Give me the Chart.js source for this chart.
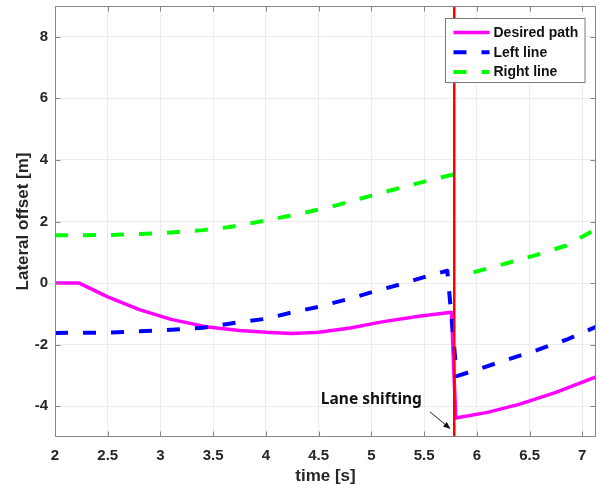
<!DOCTYPE html>
<html>
<head>
<meta charset="utf-8">
<title>Lateral offset</title>
<script src="https://cdn.jsdelivr.net/npm/chart.js@4/dist/chart.umd.min.js"></script>
<style>
  html, body { margin: 0; padding: 0; background: #ffffff; }
  canvas { display: block; }
</style>
</head>
<body>
<canvas id="chart" width="602" height="488"></canvas>
<script>
// ---- data (time in s, lateral offset in m) ----
const desiredT = [2.0, 2.23, 2.5, 2.8, 3.1, 3.45, 3.75, 4.0, 4.25, 4.5, 4.8, 5.1, 5.45, 5.76, 5.80, 6.1, 6.4, 6.75, 7.13];
const desiredY = [0, 0, -0.45, -0.86, -1.18, -1.43, -1.54, -1.6, -1.64, -1.6, -1.46, -1.26, -1.08, -0.95, -4.38, -4.2, -3.94, -3.55, -3.05];

const leftT = [2.0, 2.5, 3.0, 3.4, 3.75, 4.0, 4.25, 4.5, 4.8, 5.05, 5.3, 5.55, 5.72, 5.81, 5.95, 6.25, 6.55, 6.85, 7.13];
const leftY = [-1.62, -1.61, -1.54, -1.45, -1.27, -1.16, -0.95, -0.77, -0.5, -0.25, -0.02, 0.25, 0.4, -3.02, -2.87, -2.53, -2.2, -1.84, -1.42];

const rightT = [2.0, 2.5, 3.0, 3.4, 3.66, 4.0, 4.3, 4.6, 5.0, 5.3, 5.6, 5.83, 5.9, 5.97, 6.3, 6.55, 6.85, 7.13];
const rightY = [1.55, 1.56, 1.62, 1.72, 1.82, 2.03, 2.24, 2.46, 2.84, 3.12, 3.38, 3.57, null, 0.35, 0.66, 0.9, 1.22, 1.75];

const laneShiftT = [5.786, 5.786];
const laneShiftY = [-5, 9];

const timeTicks = [2, 2.5, 3, 3.5, 4, 4.5, 5, 5.5, 6, 6.5, 7];
const offsetTicks = [-4, -2, 0, 2, 4, 6, 8];
const timeRange = [2, 7.13];
const offsetRange = [-5, 9];

const seriesNames = ['Desired path', 'Left line', 'Right line'];
const annotationText = 'Lane shifting';
// label anchor and arrow (data coordinates)
const annotationLabelAt = { x: 5.0, y: -3.8 };
const annotationArrowFrom = { x: 5.555, y: -4.18 };
const annotationArrowTo = { x: 5.751, y: -4.74 };

const zip = (xs, ys) => xs.map((x, i) => ({ x: x, y: ys[i] }));

const TICK_FONT = { family: '"Liberation Sans", Arial, sans-serif', size: 15, weight: 'bold' };
const TITLE_FONT = { family: '"Liberation Sans", Arial, sans-serif', size: 17, weight: 'bold' };
const TEXT_COLOR = '#262626';
const FRAME_COLOR = '#858585';

// Box frame with inward tick marks on all four sides
const framePlugin = {
  id: 'frame',
  afterDatasetsDraw(chart) {
    const { ctx, chartArea: a, scales } = chart;
    const L = Math.round(a.left) + 0.5, R = Math.round(a.right) - 0.5;
    const T = Math.round(a.top) + 0.5, B = Math.round(a.bottom) - 0.5;
    ctx.save();
    ctx.strokeStyle = FRAME_COLOR;
    ctx.lineWidth = 1;
    ctx.beginPath();
    ctx.rect(L, T, R - L, B - T);
    const tl = 5;
    scales.x.ticks.forEach(t => {
      const px = Math.round(scales.x.getPixelForValue(t.value)) + 0.5;
      ctx.moveTo(px, B); ctx.lineTo(px, B - tl);
      ctx.moveTo(px, T); ctx.lineTo(px, T + tl);
    });
    scales.y.ticks.forEach(t => {
      const py = Math.round(scales.y.getPixelForValue(t.value)) + 0.5;
      ctx.moveTo(L, py); ctx.lineTo(L + tl, py);
      ctx.moveTo(R, py); ctx.lineTo(R - tl, py);
    });
    ctx.stroke();
    ctx.restore();
  }
};

// "Lane shifting" note with an arrow pointing at the shift instant
const annotationPlugin = {
  id: 'laneNote',
  afterDraw(chart) {
    const { ctx, scales } = chart;
    const X = v => scales.x.getPixelForValue(v), Y = v => scales.y.getPixelForValue(v);
    ctx.save();
    ctx.fillStyle = '#111111';
    ctx.font = 'bold 15.5px "Noto Sans", "Open Sans", sans-serif';
    ctx.textAlign = 'center';
    ctx.textBaseline = 'middle';
    ctx.fillText(annotationText, X(annotationLabelAt.x), Y(annotationLabelAt.y));

    const x0 = X(annotationArrowFrom.x), y0 = Y(annotationArrowFrom.y);
    const x1 = X(annotationArrowTo.x), y1 = Y(annotationArrowTo.y);
    const ang = Math.atan2(y1 - y0, x1 - x0);
    const head = 8, spread = 0.38;
    ctx.strokeStyle = '#222222';
    ctx.lineWidth = 1;
    ctx.beginPath();
    ctx.moveTo(x0, y0);
    ctx.lineTo(x1 - Math.cos(ang) * head * 0.8, y1 - Math.sin(ang) * head * 0.8);
    ctx.stroke();
    ctx.beginPath();
    ctx.moveTo(x1, y1);
    ctx.lineTo(x1 - head * Math.cos(ang - spread), y1 - head * Math.sin(ang - spread));
    ctx.lineTo(x1 - head * Math.cos(ang + spread), y1 - head * Math.sin(ang + spread));
    ctx.closePath();
    ctx.fillStyle = '#111111';
    ctx.fill();
    ctx.restore();
  }
};

// Boxed legend in the upper right corner of the plot
const boxLegendPlugin = {
  id: 'boxLegend',
  afterDraw(chart) {
    const { ctx, chartArea: a } = chart;
    const w = 139.5, h = 64;
    const left = Math.round(a.right - 12 - w) + 0.5;
    const top = Math.round(a.top + 12) + 0.5;
    ctx.save();
    ctx.fillStyle = '#ffffff';
    ctx.fillRect(left, top, w, h);
    ctx.strokeStyle = '#7a7a7a';
    ctx.lineWidth = 1;
    ctx.strokeRect(left, top, w, h);
    const rows = [14, 33.7, 53.5];
    ctx.font = 'bold 14px "Liberation Sans", Arial, sans-serif';
    ctx.textBaseline = 'middle';
    ctx.textAlign = 'left';
    seriesNames.forEach((name, i) => {
      const ds = chart.data.datasets[i];
      const y = top + rows[i];
      ctx.strokeStyle = ds.borderColor;
      ctx.lineWidth = ds.borderWidth;
      ctx.lineCap = 'butt';
      ctx.setLineDash(ds.borderDash || []);
      ctx.beginPath();
      ctx.moveTo(left + 8, y);
      ctx.lineTo(left + 44, y);
      ctx.stroke();
      ctx.setLineDash([]);
      ctx.fillStyle = '#111111';
      ctx.fillText(name, left + 48, y + 0.5);
    });
    ctx.restore();
  }
};

const lineDefaults = { pointRadius: 0, pointHoverRadius: 0, tension: 0, fill: false, borderCapStyle: 'butt', borderJoinStyle: 'round', spanGaps: false };

new Chart(document.getElementById('chart'), {
  type: 'line',
  data: {
    datasets: [
      Object.assign({ label: seriesNames[0], data: zip(desiredT, desiredY), borderColor: '#ff00ff', borderWidth: 3.5, order: 3 }, lineDefaults),
      Object.assign({ label: seriesNames[1], data: zip(leftT, leftY), borderColor: '#0000ff', borderWidth: 4, borderDash: [13, 15], order: 2 }, lineDefaults),
      Object.assign({ label: seriesNames[2], data: zip(rightT, rightY), borderColor: '#00ff00', borderWidth: 4, borderDash: [13, 15], order: 1 }, lineDefaults),
      Object.assign({ label: 'lane shift', data: zip(laneShiftT, laneShiftY), borderColor: '#ff0000', borderWidth: 2.5, order: 0 }, lineDefaults)
    ]
  },
  options: {
    responsive: false,
    animation: false,
    devicePixelRatio: 1,
    layout: { padding: { top: 6, right: 6, left: 0, bottom: 0 } },
    plugins: { legend: { display: false }, tooltip: { enabled: false } },
    scales: {
      x: {
        type: 'linear',
        min: timeRange[0],
        max: timeRange[1],
        afterBuildTicks: s => { s.ticks = timeTicks.map(v => ({ value: v })); },
        afterFit: s => { s.height = 51; s.paddingLeft = 0; s.paddingRight = 0; },
        ticks: { font: TICK_FONT, color: TEXT_COLOR, padding: 10, maxRotation: 0, autoSkip: false, callback: v => String(v) },
        grid: { color: '#ececec', lineWidth: 1, drawTicks: false },
        border: { display: false },
        title: { display: true, text: 'time [s]', font: TITLE_FONT, color: TEXT_COLOR, padding: { top: 0, bottom: 1 } }
      },
      y: {
        type: 'linear',
        min: offsetRange[0],
        max: offsetRange[1],
        afterBuildTicks: s => { s.ticks = offsetTicks.map(v => ({ value: v })); },
        afterFit: s => { s.width = 55; s.paddingTop = 0; s.paddingBottom = 0; },
        ticks: { font: TICK_FONT, color: TEXT_COLOR, padding: 7, callback: v => String(v) },
        grid: { color: '#ececec', lineWidth: 1, drawTicks: false },
        border: { display: false },
        title: { display: true, text: 'Lateral offset [m]', font: TITLE_FONT, color: TEXT_COLOR, padding: { top: 13, bottom: 0 } }
      }
    }
  },
  plugins: [framePlugin, annotationPlugin, boxLegendPlugin]
});
</script>
</body>
</html>
